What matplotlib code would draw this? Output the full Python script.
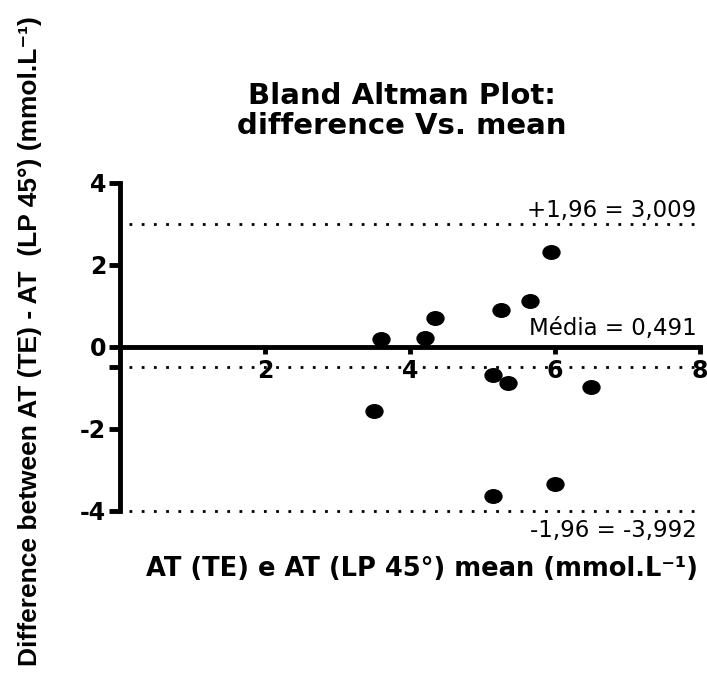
"""
Bland Altman plot: difference Vs. mean
"""

import matplotlib
matplotlib.use('Agg')
import matplotlib.pyplot as plt
import numpy as np
from matplotlib.path import Path
from matplotlib.transforms import Affine2D

matplotlib.rcParams['font.family'] = ['DejaVu Sans']
matplotlib.rcParams['axes.unicode_minus'] = False

# data
mean_values = [3.60, 4.20, 4.35, 5.25, 5.65, 5.95, 5.15, 5.35, 6.50, 3.51, 5.15, 6.00]
diff_values = [0.20, 0.21, 0.71, 0.91, 1.11, 2.32, -0.69, -0.88, -0.97, -1.56, -3.64, -3.33]

bias = -0.491
upper_loa = 3.009
lower_loa = -3.992

upper_label = '+1,96 = 3,009'
bias_label = 'Média = 0,491'
lower_label = '-1,96 = -3,992'

x_ticks = [2, 4, 6, 8]
y_ticks = [-4, -2, 0, 2, 4]

fig = plt.figure(figsize=(7.07, 6.77), dpi=100)
ax = fig.add_axes([120 / 707, 1 - 511 / 677, 580 / 707, 328 / 677])

# slightly wide ellipse marker (the picture is stretched horizontally)
ellipse = Path.unit_circle().transformed(Affine2D().scale(1.25, 1.0))
ax.plot(mean_values, diff_values, linestyle='none', marker=ellipse,
        markersize=12.2, color='black', clip_on=False, zorder=5)

# limits of agreement and bias
dotted = dict(color='black', linewidth=2.0, linestyle=(0, (1, 3.4)), zorder=2, clip_on=False)
for level in [upper_loa, bias, lower_loa]:
    ax.plot([0.12, 8], [level, level], **dotted)

ax.text(7.95, upper_loa + 0.17, upper_label, ha='right', va='baseline', fontsize=16.5)
ax.text(7.95, 0.3, bias_label, ha='right', va='baseline', fontsize=16.5)
ax.text(7.95, lower_loa - 0.2, lower_label, ha='right', va='top', fontsize=16.5)

# Prism style axes
ax.set_xlim(0, 8)
ax.set_ylim(-4, 4)
ax.spines['top'].set_visible(False)
ax.spines['right'].set_visible(False)
ax.spines['left'].set_position(('data', 0))
ax.spines['bottom'].set_position(('data', 0))
ax.spines['left'].set_bounds(-4, 4)
ax.spines['bottom'].set_bounds(0, 8)
for side in ['left', 'bottom']:
    ax.spines[side].set_linewidth(3.5)
    ax.spines[side].set_capstyle('projecting')

ax.set_xticks(x_ticks)
ax.set_yticks(y_ticks)
ax.set_yticks([bias], minor=True)
ax.tick_params(axis='x', direction='out', length=5, width=3.5, pad=4, labelsize=17)
ax.tick_params(axis='y', which='both', direction='out', length=8, width=3.5, pad=2, labelsize=17)
for lbl in ax.get_xticklabels() + ax.get_yticklabels():
    lbl.set_fontweight('bold')

# titles
fig.text(402 / 707, 1 - 111 / 677, 'Bland Altman Plot:\ndifference Vs. mean',
         ha='center', va='center', fontsize=21, fontweight='bold', linespacing=1.1)
fig.text(422 / 707, 1 - 569 / 677, 'AT (TE) e AT (LP 45°) mean (mmol.L⁻¹)',
         ha='center', va='center', fontsize=18.5, fontweight='bold')
fig.text(30 / 707, 1 - 341 / 677,
         'Difference between AT (TE) - AT  (LP 45°) (mmol.L⁻¹)',
         ha='center', va='center', rotation=90, fontsize=19, fontweight='bold',
         family=['Liberation Sans', 'DejaVu Sans'])

plt.savefig('out.png', dpi=100)
plt.close()
